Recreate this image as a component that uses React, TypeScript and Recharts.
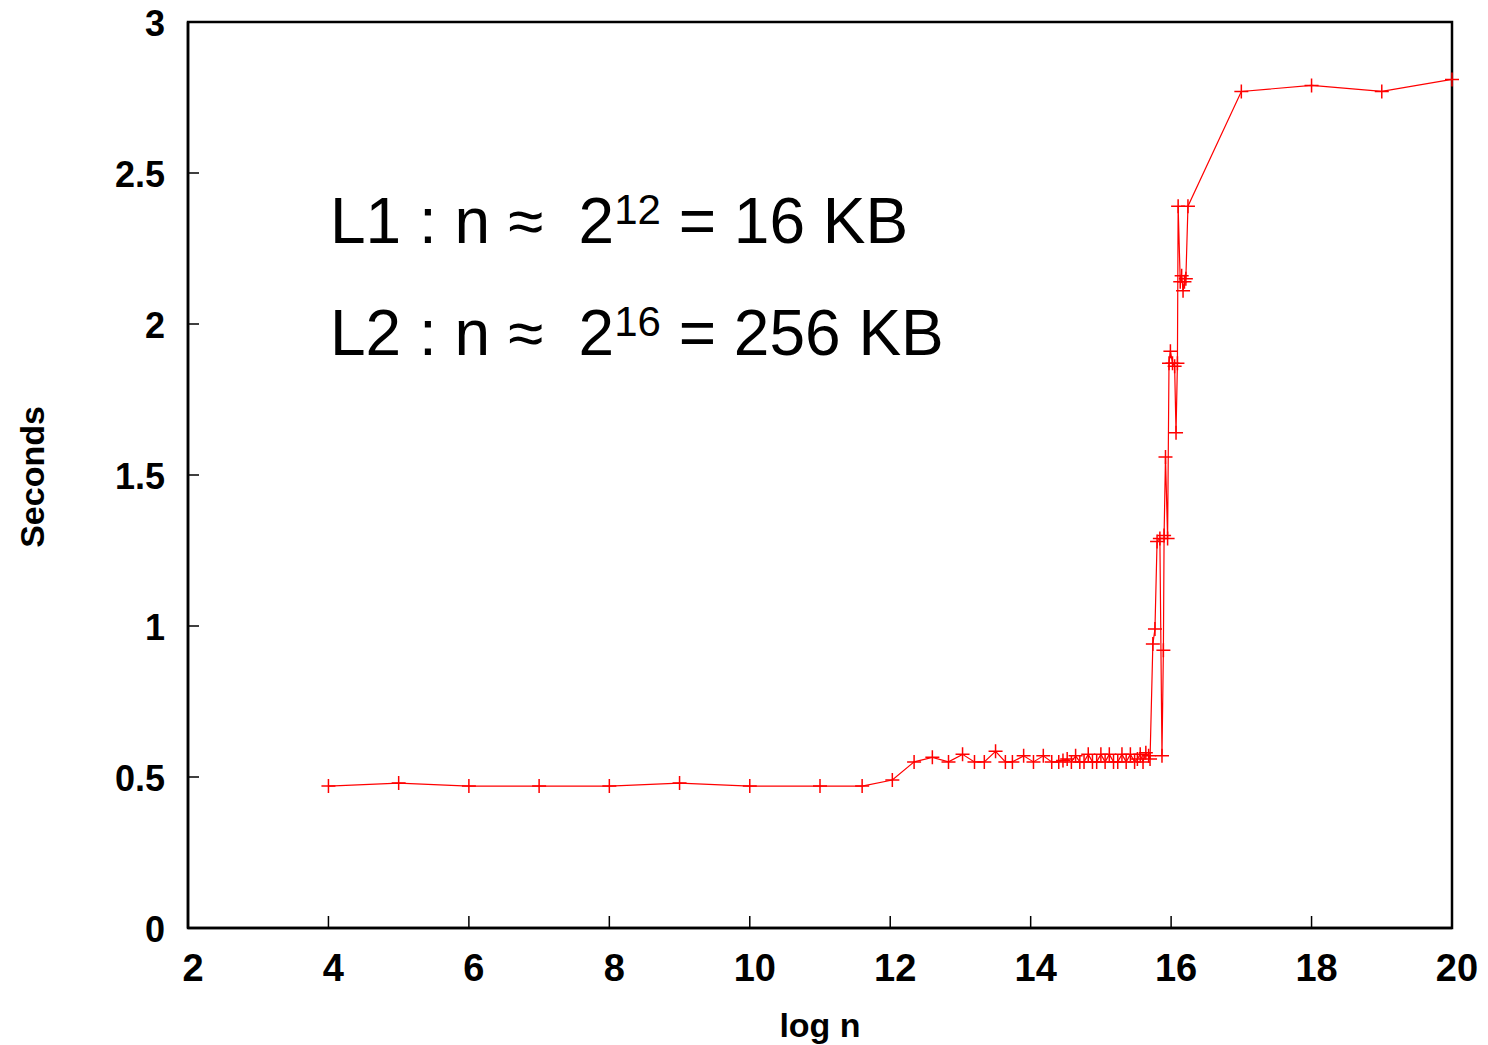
import { LineChart, Line, XAxis, YAxis, ReferenceArea } from "recharts";

// log n values
const logN = [
  4, 5, 6, 7, 8, 9, 10, 11, 11.6, 12.03, 12.34, 12.6, 12.83, 13.03, 13.2, 13.34,
  13.5, 13.64, 13.74, 13.9, 14.04, 14.18, 14.3, 14.4, 14.46, 14.52, 14.58, 14.64,
  14.7, 14.76, 14.82, 14.88, 14.94, 15.0, 15.06, 15.12, 15.18, 15.24, 15.3, 15.36,
  15.42, 15.48, 15.52, 15.56, 15.6, 15.64, 15.68, 15.7,
  15.74, 15.77, 15.8, 15.84, 15.87, 15.89, 15.9, 15.92, 15.95, 15.97, 15.99, 16.02,
  16.05, 16.07, 16.09, 16.1, 16.13, 16.15, 16.17, 16.19, 16.21, 16.24,
  17, 18, 19, 20,
];

// seconds
const seconds = [
  0.47, 0.48, 0.47, 0.47, 0.47, 0.48, 0.47, 0.47, 0.47, 0.49, 0.55, 0.565, 0.55, 0.575, 0.55, 0.55,
  0.585, 0.55, 0.55, 0.57, 0.55, 0.57, 0.55, 0.55, 0.555, 0.56, 0.55, 0.57,
  0.55, 0.55, 0.575, 0.55, 0.55, 0.575, 0.55, 0.575, 0.55, 0.55, 0.575, 0.55,
  0.575, 0.55, 0.56, 0.575, 0.55, 0.58, 0.57, 0.56,
  0.94, 0.99, 1.28, 1.29, 0.57, 0.92, 1.3, 1.56, 1.29, 1.87, 1.91, 1.87,
  1.86, 1.64, 1.87, 2.39, 2.14, 2.16, 2.11, 2.14, 2.15, 2.39,
  2.77, 2.79, 2.77, 2.81,
];

const xTicks = [2, 4, 6, 8, 10, 12, 14, 16, 18, 20];
const yTicks = [0, 0.5, 1, 1.5, 2, 2.5, 3];

const data = logN.map((x, i) => ({ x, y: seconds[i] }));

const font = "'Liberation Sans', Arial, sans-serif";

const PlusDot = (props: any) => {
  const { cx, cy, index } = props;
  if (cx == null || cy == null) return null;
  return (
    <path
      key={"d" + index}
      d={`M${cx - 7},${cy}h14M${cx},${cy - 7}v14`}
      stroke="#ff0000"
      strokeWidth={1.5}
      fill="none"
    />
  );
};

const XTick = (props: any) => {
  const { x, y, payload } = props;
  return (
    <g>
      <line x1={x} y1={y} x2={x} y2={y - 12} stroke="#000" strokeWidth={1.5} />
      <text x={x + 5} y={y + 53} textAnchor="middle" fontFamily={font} fontWeight="bold" fontSize={38} fill="#000">
        {payload.value}
      </text>
    </g>
  );
};

const YTick = (props: any) => {
  const { x, y, payload } = props;
  return (
    <g>
      <line x1={x} y1={y} x2={x + 11} y2={y} stroke="#000" strokeWidth={1.5} />
      <text x={x - 23} y={y + 14} textAnchor="end" fontFamily={font} fontWeight="bold" fontSize={36} fill="#000">
        {payload.value}
      </text>
    </g>
  );
};

export default function App() {
  return (
    <div style={{ position: "relative", width: 1480, height: 1037 }}>
      <LineChart
        width={1480}
        height={1037}
        data={data}
        margin={{ top: 14, right: 36, bottom: 0, left: 0 }}
      >
        <XAxis
          dataKey="x"
          type="number"
          domain={[2, 20]}
          ticks={xTicks}
          height={117}
          tickSize={0}
          tickMargin={0}
          tickLine={false}
          tick={<XTick />}
          axisLine={{ stroke: "#000", strokeWidth: 2.5 }}
          label={{
            content: (p: any) => {
              const vb = p.viewBox;
              return (
                <text x={vb.x + vb.width / 2} y={vb.y + 109} textAnchor="middle" fontFamily={font} fontWeight="bold" fontSize={34} fill="#000">
                  log n
                </text>
              );
            },
          }}
        />
        <YAxis
          dataKey="y"
          type="number"
          domain={[0, 3]}
          ticks={yTicks}
          width={180}
          tickSize={0}
          tickMargin={0}
          tickLine={false}
          tick={<YTick />}
          axisLine={{ stroke: "#000", strokeWidth: 2.5 }}
          label={{
            content: (p: any) => {
              const vb = p.viewBox;
              const cy = vb.y + vb.height / 2 + 2;
              return (
                <text
                  x={36}
                  y={cy}
                  transform={`rotate(-90, 36, ${cy})`}
                  textAnchor="middle"
                  fontFamily={font}
                  fontWeight="bold"
                  fontSize={34}
                  fill="#000"
                >
                  Seconds
                </text>
              );
            },
          }}
        />
        <ReferenceArea x1={2} x2={20} y1={0} y2={3} fill="none" stroke="#000" strokeWidth={2.5} />
        <Line
          dataKey="y"
          stroke="#ff0000"
          strokeWidth={1.2}
          dot={<PlusDot />}
          activeDot={false}
          isAnimationActive={false}
        />
      </LineChart>
      <svg
        width={1480}
        height={1037}
        style={{ position: "absolute", left: 0, top: 0, pointerEvents: "none" }}
      >
        <text x={322} y={235} fontFamily={font} fontSize={64} fill="#000" style={{ whiteSpace: "pre" }}>
          <tspan>{"L1 : n ≈  2"}</tspan>
          <tspan fontSize={42} dy={-19}>12</tspan>
          <tspan dy={19}>{" = 16 KB"}</tspan>
        </text>
        <text x={322} y={347} fontFamily={font} fontSize={64} fill="#000" style={{ whiteSpace: "pre" }}>
          <tspan>{"L2 : n ≈  2"}</tspan>
          <tspan fontSize={42} dy={-19}>16</tspan>
          <tspan dy={19}>{" = 256 KB"}</tspan>
        </text>
      </svg>
    </div>
  );
}
